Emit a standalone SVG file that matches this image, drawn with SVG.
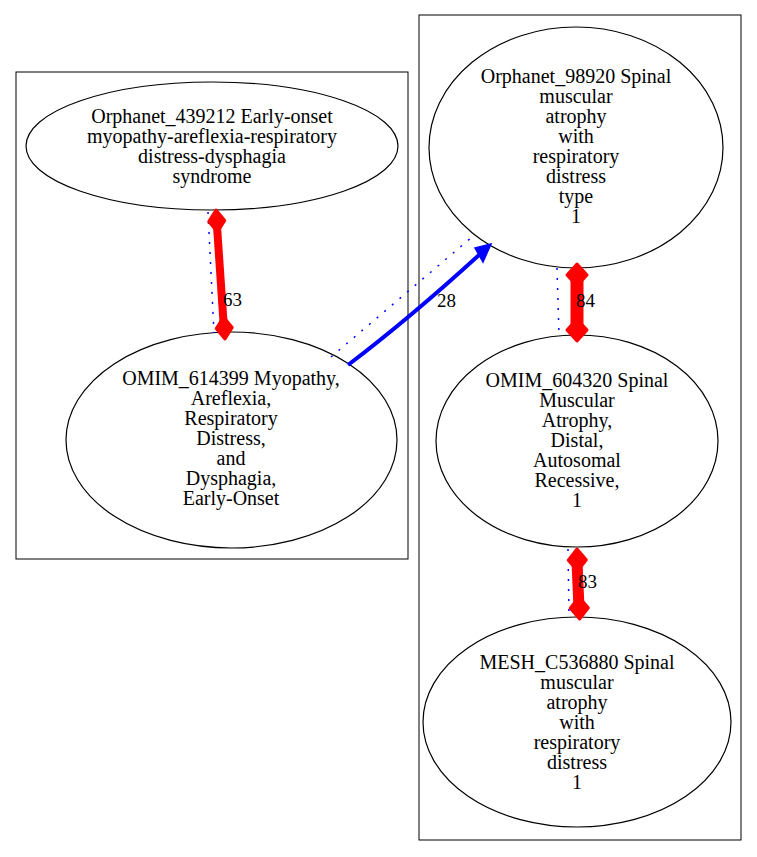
<svg xmlns="http://www.w3.org/2000/svg" width="757" height="857" viewBox="0 0 757 857">
<style>
.cl{fill:none;stroke:#000;stroke-width:1}
.nd{fill:#fff;stroke:#000;stroke-width:1.2}
.t{font-family:"Liberation Serif","Times New Roman",serif;font-size:20px;fill:#000;text-anchor:middle}
.el{font-family:"Liberation Serif","Times New Roman",serif;font-size:19px;fill:#000}
.dot{fill:none;stroke:#0000ff;stroke-width:1.5;stroke-dasharray:2,8}
.red{fill:none;stroke:#ff0000;stroke-linecap:butt}
.dia{fill:#ff0000;stroke:#ff0000;stroke-width:3;stroke-linejoin:round}
</style>
<rect width="757" height="857" fill="#fff"/>
<g id="clusters">
<rect class="cl" x="16" y="72" width="392" height="487"/>
<rect class="cl" x="419" y="15" width="322" height="825"/>
</g>
<g id="n_orphanet_439212">
<ellipse class="nd" cx="212" cy="146" rx="186" ry="64"/>
<text class="t" x="212" y="123">Orphanet_439212 Early-onset</text>
<text class="t" x="212" y="143">myopathy-areflexia-respiratory</text>
<text class="t" x="212" y="163">distress-dysphagia</text>
<text class="t" x="212" y="183">syndrome</text>
</g>
<g id="n_omim_614399">
<ellipse class="nd" cx="231.5" cy="440" rx="165.5" ry="108"/>
<text class="t" x="231" y="385">OMIM_614399 Myopathy,</text>
<text class="t" x="231" y="405">Areflexia,</text>
<text class="t" x="231" y="425">Respiratory</text>
<text class="t" x="231" y="445">Distress,</text>
<text class="t" x="231" y="465">and</text>
<text class="t" x="231" y="485">Dysphagia,</text>
<text class="t" x="231" y="505">Early-Onset</text>
</g>
<g id="n_orphanet_98920">
<ellipse class="nd" cx="576" cy="147.5" rx="147" ry="120.5"/>
<text class="t" x="576" y="83">Orphanet_98920 Spinal</text>
<text class="t" x="576" y="103">muscular</text>
<text class="t" x="576" y="123">atrophy</text>
<text class="t" x="576" y="143">with</text>
<text class="t" x="576" y="163">respiratory</text>
<text class="t" x="576" y="183">distress</text>
<text class="t" x="576" y="203">type</text>
<text class="t" x="576" y="223">1</text>
</g>
<g id="n_omim_604320">
<ellipse class="nd" cx="577" cy="441" rx="141" ry="106"/>
<text class="t" x="577" y="387">OMIM_604320 Spinal</text>
<text class="t" x="577" y="407">Muscular</text>
<text class="t" x="577" y="427">Atrophy,</text>
<text class="t" x="577" y="447">Distal,</text>
<text class="t" x="577" y="467">Autosomal</text>
<text class="t" x="577" y="487">Recessive,</text>
<text class="t" x="577" y="507">1</text>
</g>
<g id="n_mesh_c536880">
<ellipse class="nd" cx="577" cy="722" rx="154" ry="105"/>
<text class="t" x="577" y="669">MESH_C536880 Spinal</text>
<text class="t" x="577" y="689">muscular</text>
<text class="t" x="577" y="709">atrophy</text>
<text class="t" x="577" y="729">with</text>
<text class="t" x="577" y="749">respiratory</text>
<text class="t" x="577" y="769">distress</text>
<text class="t" x="577" y="789">1</text>
</g>
<g id="edges">
<!-- 63 -->
<path class="dot" d="M208,212 L214,333"/>
<path class="red" stroke-width="8" d="M217,226 L223.5,322"/>
<path class="dia" transform="translate(216,210) rotate(-3.9)" d="M0,0 L8,11 L0,22 L-8,11 Z"/>
<path class="dia" transform="translate(223.5,317) rotate(-3.9)" d="M0,0 L8,11 L0,22 L-8,11 Z"/>
<text class="el" x="223" y="306">63</text>
<!-- 28 -->
<path class="dot" d="M331,357 L472,237"/>
<path fill="none" stroke="#0000ff" stroke-width="4" d="M348,365 Q410,318 479,255"/>
<polygon fill="#0000ff" stroke="#0000ff" stroke-width="1.5" points="491,244 475,248 483,262"/>
<text class="el" x="437" y="307">28</text>
<!-- 84 -->
<path class="dot" d="M557,268 L559,335"/>
<path class="red" stroke-width="13" d="M577,278 L577,326"/>
<path class="dia" transform="translate(577,264)" d="M0,0 L10,11 L0,22 L-10,11 Z"/>
<path class="dia" transform="translate(577,319)" d="M0,0 L10,11 L0,22 L-10,11 Z"/>
<text class="el" x="576" y="307">84</text>
<!-- 83 -->
<path class="dot" d="M568,549 L569,617"/>
<path class="red" stroke-width="11" d="M577,562 L579,608"/>
<path class="dia" transform="translate(577,549) rotate(-1.6)" d="M0,0 L9,11 L0,22 L-9,11 Z"/>
<path class="dia" transform="translate(579,597) rotate(-1.6)" d="M0,0 L9,11 L0,22 L-9,11 Z"/>
<text class="el" x="578" y="588">83</text>
</g>
</svg>
